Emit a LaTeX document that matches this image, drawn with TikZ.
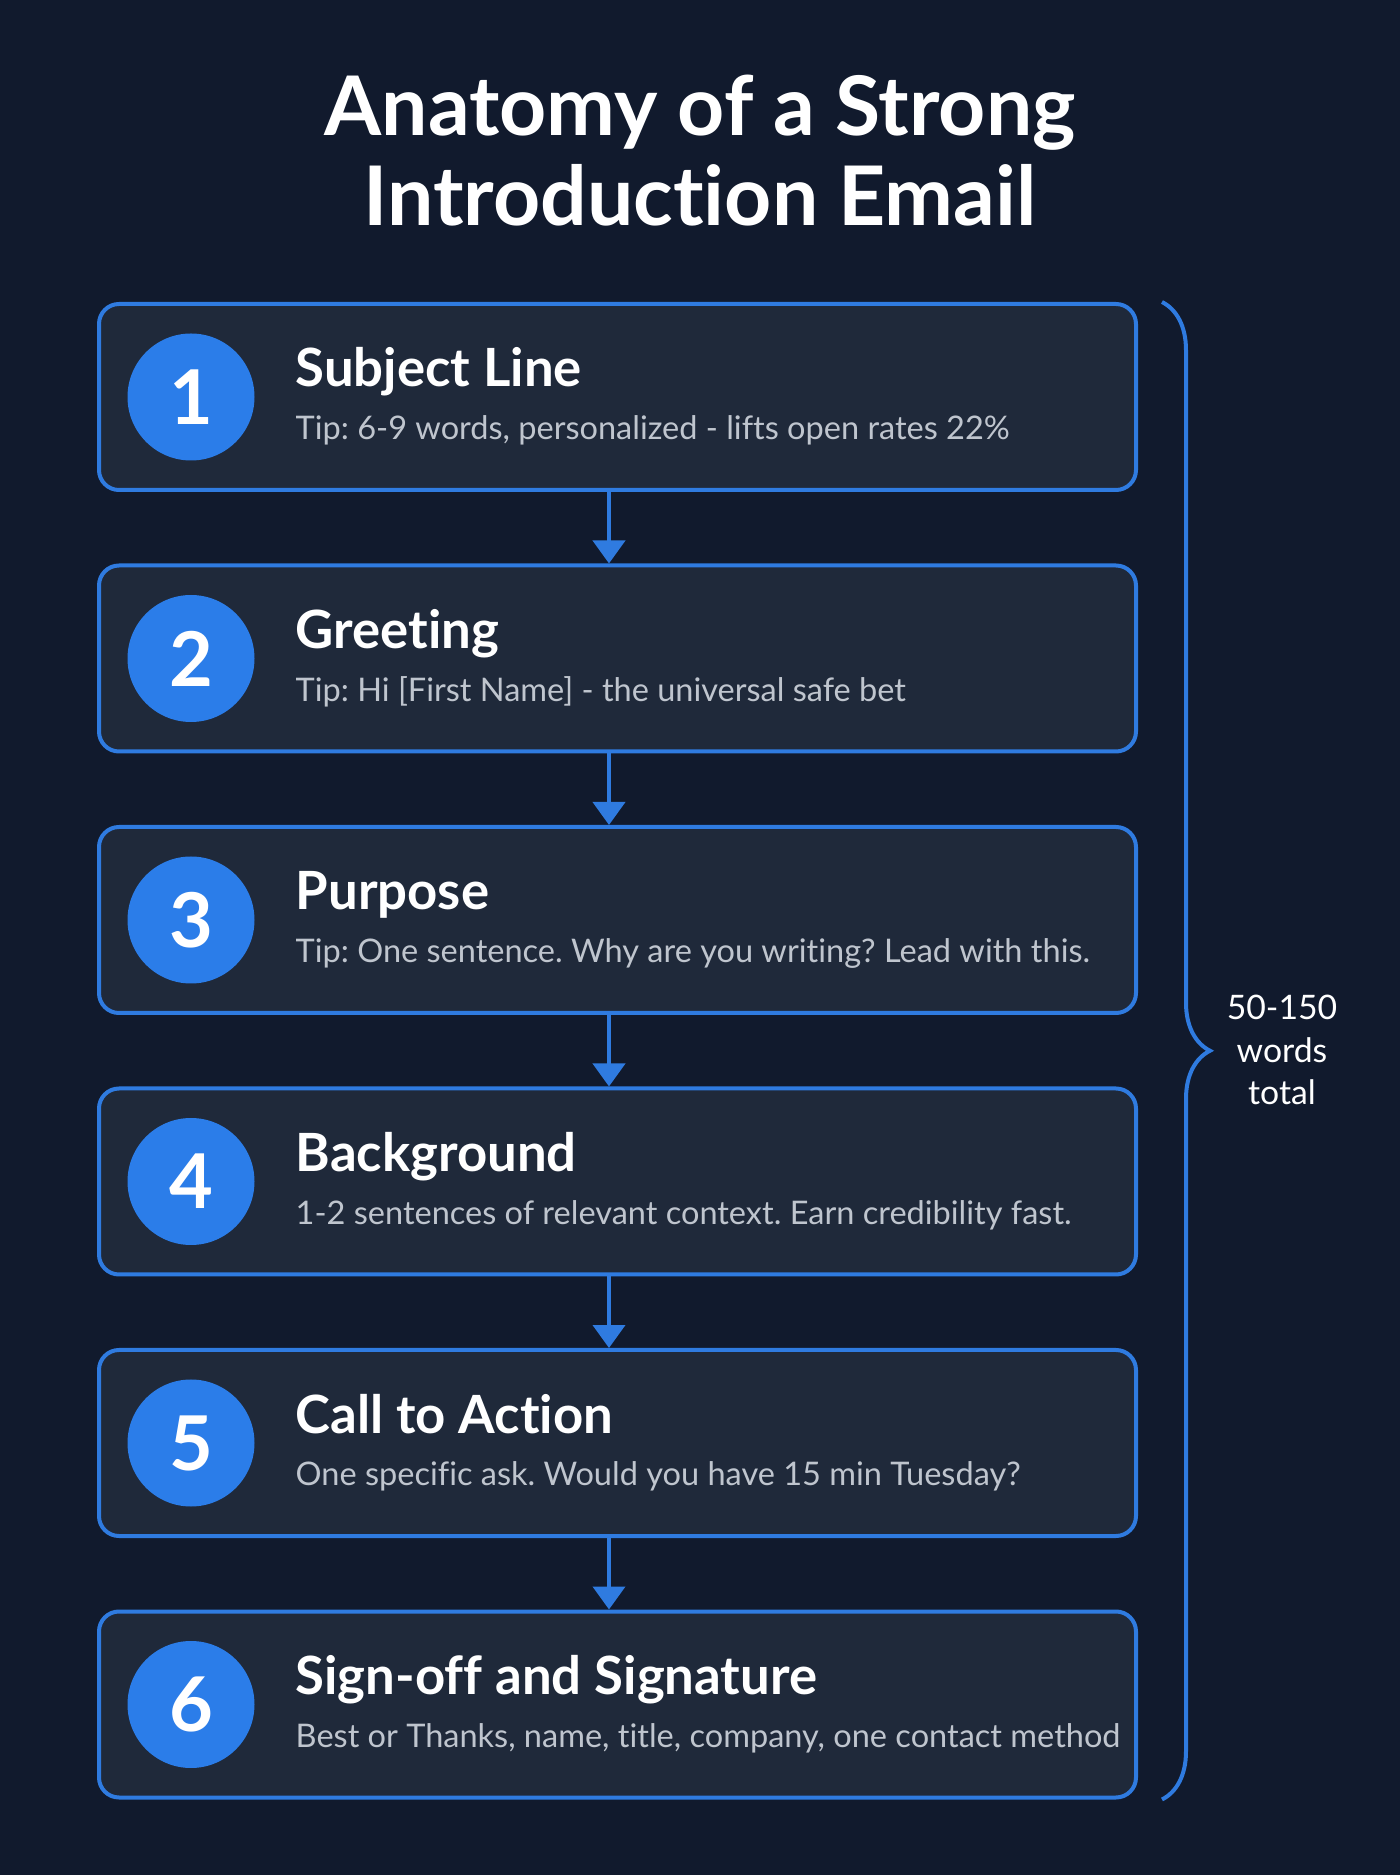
\documentclass[tikz,border=0pt]{standalone}
\usepackage{fontspec}
\setmainfont{Lato}[Ligatures=NoCommon]
\usetikzlibrary{arrows.meta,decorations.pathreplacing}
\definecolor{bgcol}{HTML}{111A2D}
\definecolor{boxcol}{HTML}{1F293A}
\definecolor{linecol}{HTML}{2F7BE0}
\definecolor{numcol}{HTML}{2B7DE9}
\definecolor{tipcol}{HTML}{BFC5CE}
\frenchspacing
\begin{document}
\begin{tikzpicture}[
step box/.style={draw=linecol,fill=boxcol,line width=0.04cm,rounded corners=0.2cm,
  minimum width=10.37cm,minimum height=1.86cm,inner sep=0pt},
num node/.style={circle,fill=numcol,minimum size=1.27cm,inner sep=0pt,text=white,
  font=\fontsize{21.5}{24}\selectfont\bfseries},
head node/.style={anchor=base west,inner sep=0pt,text=white,
  font=\fontsize{15}{18}\selectfont\bfseries},
tip node/.style={anchor=base west,inner sep=0pt,text=tipcol,
  font=\fontsize{9.25}{12}\selectfont},
flow/.style={draw=linecol,line width=0.04cm,-{Triangle[width=0.32cm,length=0.23cm]}}]
\fill[bgcol] (0,0) rectangle (14,18.75);
\useasboundingbox (0,0) rectangle (14,18.75);
\def\dy{2.615}
% title
\node[text=white,font=\fontsize{23.4}{26}\selectfont\bfseries,anchor=base] (title1) at (7,17.39) {Anatomy of a Strong};
\node[text=white,font=\fontsize{23.4}{26}\selectfont\bfseries,anchor=base] (title2) at (7,16.49) {Introduction Email};

% steps
\node[step box] (10) at (6.175,14.78-0*\dy) {};
\node[num node] (11) at (1.91,14.78-0*\dy) {1};
\node[head node] (12) at (2.95,14.88-0*\dy) {Subject Line};
\node[tip node] (13) at (2.95,14.35-0*\dy) {Tip: 6-9 words, personalized - lifts open rates 22\%};

\node[step box] (20) at (6.175,14.78-1*\dy) {};
\node[num node] (21) at (1.91,14.78-1*\dy) {2};
\node[head node] (22) at (2.95,14.88-1*\dy) {Greeting};
\node[tip node] (23) at (2.95,14.35-1*\dy) {Tip: Hi [First Name] - the universal safe bet};

\node[step box] (30) at (6.175,14.78-2*\dy) {};
\node[num node] (31) at (1.91,14.78-2*\dy) {3};
\node[head node] (32) at (2.95,14.88-2*\dy) {Purpose};
\node[tip node] (33) at (2.95,14.35-2*\dy) {Tip: One sentence. Why are you writing? Lead with this.};

\node[step box] (40) at (6.175,14.78-3*\dy) {};
\node[num node] (41) at (1.91,14.78-3*\dy) {4};
\node[head node] (42) at (2.95,14.88-3*\dy) {Background};
\node[tip node] (43) at (2.95,14.35-3*\dy) {1-2 sentences of relevant context. Earn credibility fast.};

\node[step box] (50) at (6.175,14.78-4*\dy) {};
\node[num node] (51) at (1.91,14.78-4*\dy) {5};
\node[head node] (52) at (2.95,14.88-4*\dy) {Call to Action};
\node[tip node] (53) at (2.95,14.35-4*\dy) {One specific ask. Would you have 15 min Tuesday?};

\node[step box] (60) at (6.175,14.78-5*\dy) {};
\node[num node] (61) at (1.91,14.78-5*\dy) {6};
\node[head node] (62) at (2.95,14.88-5*\dy) {Sign-off and Signature};
\node[tip node] (63) at (2.95,14.35-5*\dy) {Best or Thanks, name, title, company, one contact method};

\draw[flow] ([xshift=-0.085cm]10.south) -- ([xshift=-0.085cm]20.north);
\draw[flow] ([xshift=-0.085cm]20.south) -- ([xshift=-0.085cm]30.north);
\draw[flow] ([xshift=-0.085cm]30.south) -- ([xshift=-0.085cm]40.north);
\draw[flow] ([xshift=-0.085cm]40.south) -- ([xshift=-0.085cm]50.north);
\draw[flow] ([xshift=-0.085cm]50.south) -- ([xshift=-0.085cm]60.north);

% brace
\coordinate (btop) at (11.62,0 |- 10.north);
\coordinate (bbot) at (11.62,0 |- 60.south);
\draw[linecol,line width=0.04cm,decorate,decoration={brace,amplitude=0.48cm}] (btop) -- (bbot);
\node[text=white,align=center,font=\fontsize{9.6}{12.2}\selectfont] (total) at (12.82,8.25) {50-150\\words\\total};
\end{tikzpicture}
\end{document}
